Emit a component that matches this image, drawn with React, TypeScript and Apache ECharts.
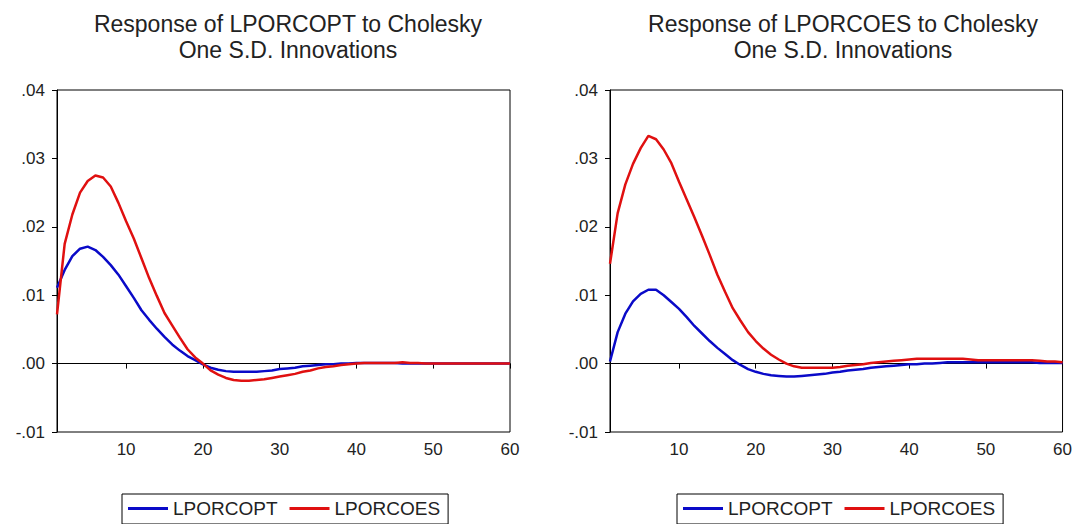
import React, { useEffect, useRef } from "react";
import * as echarts from "echarts";

const periods: number[] = [
  1, 2, 3, 4, 5, 6, 7, 8, 9, 10, 11, 12, 13, 14, 15, 16, 17, 18, 19, 20,
  21, 22, 23, 24, 25, 26, 27, 28, 29, 30, 31, 32, 33, 34, 35, 36, 37, 38, 39, 40,
  41, 42, 43, 44, 45, 46, 47, 48, 49, 50, 51, 52, 53, 54, 55, 56, 57, 58, 59, 60,
];

const xTicks = [10, 20, 30, 40, 50, 60];
const seriesNames = ["LPORCOPT", "LPORCOES"];
const titles = [
  "Response of LPORCOPT to Cholesky\nOne S.D. Innovations",
  "Response of LPORCOES to Cholesky\nOne S.D. Innovations",
];

// Left panel: Response of LPORCOPT
const leftCopt: number[] = [
  0.0111, 0.0137, 0.0157, 0.0168, 0.0171, 0.0166, 0.0156, 0.0144, 0.013, 0.0113,
  0.0096, 0.0078, 0.0064, 0.0051, 0.0039, 0.0028, 0.0019, 0.0011, 0.0005, -0.0001,
  -0.0006, -0.0009, -0.0011, -0.0012, -0.0012, -0.0012, -0.0012, -0.0011, -0.001, -0.0008,
  -0.0007, -0.0006, -0.0004, -0.0003, -0.0002, -0.0001, -0.0001, 0.0, 0.0, 0.0001,
  0.0001, 0.0001, 0.0001, 0.0001, 0.0001, 0.0, 0.0, 0.0, 0.0, 0.0,
  0.0, 0.0, 0.0, 0.0, 0.0, 0.0, 0.0, 0.0, 0.0, 0.0,
];
const leftCoes: number[] = [
  0.0072, 0.0175, 0.0218, 0.025, 0.0267, 0.0275, 0.0272, 0.0259, 0.0235, 0.0208,
  0.0183, 0.0154, 0.0125, 0.0099, 0.0074, 0.0056, 0.0038, 0.0021, 0.0009, 0.0,
  -0.001, -0.0016, -0.0021, -0.0024, -0.0025, -0.0025, -0.0024, -0.0023, -0.0021, -0.0019,
  -0.0017, -0.0015, -0.0012, -0.001, -0.0007, -0.0005, -0.0004, -0.0002, -0.0001, 0.0,
  0.0001, 0.0001, 0.0001, 0.0001, 0.0001, 0.0002, 0.0001, 0.0001, 0.0, 0.0,
  0.0, 0.0, 0.0, 0.0, 0.0, 0.0, 0.0, 0.0, 0.0, 0.0,
];

// Right panel: Response of LPORCOES
const rightCopt: number[] = [
  0.0003, 0.0046, 0.0073, 0.0091, 0.0102, 0.0108, 0.0108, 0.01, 0.009, 0.008,
  0.0068, 0.0055, 0.0044, 0.0033, 0.0023, 0.0014, 0.0005, -0.0002, -0.0008, -0.0012,
  -0.0015, -0.0017, -0.0018, -0.0019, -0.0019, -0.0018, -0.0017, -0.0016, -0.0015, -0.0013,
  -0.0012, -0.001, -0.0009, -0.0008, -0.0006, -0.0005, -0.0004, -0.0003, -0.0002, -0.0001,
  -0.0001, 0.0, 0.0, 0.0001, 0.0002, 0.0002, 0.0002, 0.0002, 0.0002, 0.0002,
  0.0002, 0.0002, 0.0002, 0.0002, 0.0002, 0.0002, 0.0001, 0.0001, 0.0001, 0.0001,
];
const rightCoes: number[] = [
  0.0146, 0.022, 0.0262, 0.0292, 0.0315, 0.0333, 0.0328, 0.0313, 0.0293, 0.0266,
  0.024, 0.0214, 0.0187, 0.0159, 0.013, 0.0105, 0.0081, 0.0063, 0.0046, 0.0033,
  0.0022, 0.0013, 0.0006, 0.0, -0.0004, -0.0006, -0.0006, -0.0006, -0.0006, -0.0006,
  -0.0005, -0.0003, -0.0002, -0.0001, 0.0001, 0.0002, 0.0003, 0.0004, 0.0005, 0.0006,
  0.0007, 0.0007, 0.0007, 0.0007, 0.0007, 0.0007, 0.0007, 0.0006, 0.0005, 0.0005,
  0.0005, 0.0005, 0.0005, 0.0005, 0.0005, 0.0005, 0.0004, 0.0003, 0.0003, 0.0002,
];

const BLUE = "#0a0ac8";
const RED = "#e01010";
const FONT = "Liberation Sans, Arial, sans-serif";

const pairs = (vals: number[]) => periods.map((p, i) => [p, vals[i]]);

const yFmt = (v: number) => {
  const s = v.toFixed(2);
  return s.replace("0.", ".");
};

export default function App() {
  const ref = useRef<HTMLDivElement>(null);
  useEffect(() => {
    if (!ref.current) return;
    const chart = echarts.init(ref.current, undefined, { renderer: "svg" });
    const grids = [
      { left: 57, top: 90, width: 453, height: 342 },
      { left: 610, top: 90, width: 454, height: 342 },
    ];
    const xAxes = grids.map((_, i) => ({
      type: "value",
      gridIndex: i,
      min: 1,
      max: 60,
      axisLine: { show: true, lineStyle: { color: "#000", width: 1 } },
      axisTick: { show: true, length: 5, customValues: xTicks, lineStyle: { color: "#000" } },
      axisLabel: {
        customValues: xTicks,
        color: "#222",
        fontSize: 17,
        fontFamily: FONT,
        margin: 9,
      },
      splitLine: { show: false },
    }));
    const yAxes = grids.map((_, i) => ({
      type: "value",
      gridIndex: i,
      min: -0.01,
      max: 0.04,
      interval: 0.01,
      axisLine: { show: true, onZero: false, lineStyle: { color: "#000", width: 1 } },
      axisTick: { show: true, length: 5, lineStyle: { color: "#000" } },
      axisLabel: {
        formatter: yFmt,
        color: "#222",
        fontSize: 17,
        fontFamily: FONT,
        margin: 12,
      },
      splitLine: { show: false },
    }));
    const panelData = [
      [leftCopt, leftCoes],
      [rightCopt, rightCoes],
    ];
    const series: any[] = [];
    panelData.forEach((pd, gi) => {
      pd.forEach((vals, si) => {
        series.push({
          type: "line",
          name: seriesNames[si],
          xAxisIndex: gi,
          yAxisIndex: gi,
          data: pairs(vals),
          symbol: "none",
          smooth: false,
          lineStyle: { color: si === 0 ? BLUE : RED, width: 2.5 },
          itemStyle: { color: si === 0 ? BLUE : RED },
          z: 3,
          markLine:
            si === 0
              ? {
                  silent: true,
                  symbol: ["none", "none"],
                  label: { show: false },
                  lineStyle: { color: "#000", width: 1, type: "solid" },
                  data: [{ yAxis: 0 }],
                  z: 1,
                }
              : undefined,
        });
      });
    });
    const legendBase = {
      top: 494,
      data: seriesNames,
      icon: "rect",
      itemWidth: 40,
      itemHeight: 3,
      itemGap: 12,
      padding: [5, 8, 6, 6],
      borderColor: "#000",
      borderWidth: 1,
      textStyle: { fontSize: 19, color: "#222", fontFamily: FONT },
      selectedMode: false,
    };
    const titleStyle = { fontSize: 23, fontWeight: "normal", color: "#222", fontFamily: FONT, lineHeight: 26 };
    chart.setOption({
      animation: false,
      backgroundColor: "#fff",
      title: [
        { text: titles[0], left: 283, top: 6, textAlign: "center", textStyle: titleStyle },
        { text: titles[1], left: 838, top: 6, textAlign: "center", textStyle: titleStyle },
      ],
      legend: [
        { ...legendBase, left: 122 },
        { ...legendBase, left: 677 },
      ],
      grid: grids.map((g) => ({ ...g, show: true, borderColor: "#000", borderWidth: 1, backgroundColor: "transparent" })),
      xAxis: xAxes,
      yAxis: yAxes,
      series,
    });
    return () => chart.dispose();
  }, []);
  return (
    <div
      ref={ref}
      style={{ position: "absolute", left: 0, top: 0, width: 1075, height: 524 }}
    />
  );
}
